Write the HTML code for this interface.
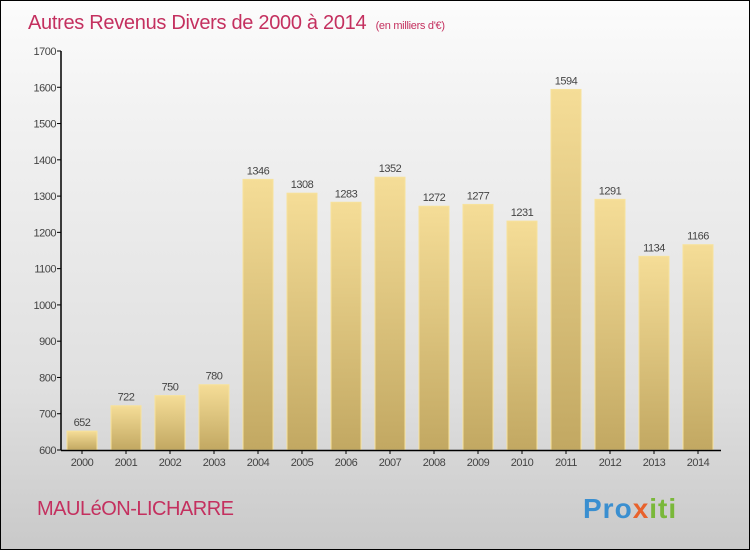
<!DOCTYPE html>
<html><head><meta charset="utf-8"><style>
html,body{margin:0;padding:0}
body{width:750px;height:550px;overflow:hidden;font-family:"Liberation Sans","DejaVu Sans",sans-serif}
#wrap{position:relative;width:748px;height:548px;border:1px solid #000;background:linear-gradient(#fcfcfc,#f2f2f2 20%,#e0e0e0 70%,#c9c9c9)}
</style></head><body>
<div id="wrap">
<svg width="748" height="548">
<defs><linearGradient id="bg" x1="0" y1="0" x2="0" y2="1"><stop offset="0" stop-color="#f5dd97"/><stop offset="1" stop-color="#c2a862"/></linearGradient></defs>
<text x="27" y="28" font-size="20" fill="#c4305f" letter-spacing="-0.3">Autres Revenus Divers de 2000 à 2014 <tspan font-size="11" dx="4">(en milliers d'€)</tspan></text>
<text x="36" y="514" font-size="20" fill="#c4305f" letter-spacing="-0.5">MAULéON-LICHARRE</text>
<text x="582" y="517" font-size="28" font-weight="bold" fill="#3a8fd0" letter-spacing="1">Pro<tspan fill="#e8622c">x</tspan><tspan fill="#7ab83a">iti</tspan></text>
<g id="plot"></g>
</svg>
</div>
<script>
const years=["2000","2001","2002","2003","2004","2005","2006","2007","2008","2009","2010","2011","2012","2013","2014"];
const values=[652,722,750,780,1346,1308,1283,1352,1272,1277,1231,1594,1291,1134,1166];
const ticks=[600,700,800,900,1000,1100,1200,1300,1400,1500,1600,1700];
const NS="http://www.w3.org/2000/svg";
const g=document.getElementById('plot');
const y=v=>449-(v-600)*(399/1100);
const x=i=>81+i*44;
function mk(t,a){const e=document.createElementNS(NS,t);for(const k in a)e.setAttribute(k,a[k]);g.appendChild(e);return e;}
ticks.forEach(t=>{
 const l=mk('line',{x1:56,x2:60,y1:y(t),y2:y(t),stroke:'#000'});
 
 
 const tx=mk('text',{x:55,y:y(t)+4,'font-size':11,fill:'#444','text-anchor':'end','letter-spacing':'-0.5'});
 tx.textContent=t;
 
 
});
values.forEach((v,i)=>{
 const r=mk('rect',{x:x(i)-15,y:y(v),width:30,height:449-y(v),fill:'url(#bg)',stroke:'#f7e29c','stroke-width':1});
 
 
 const vl=mk('text',{x:x(i),y:y(v)-5,'font-size':11,fill:'#444','text-anchor':'middle','letter-spacing':'-0.5'});
 vl.textContent=v;
 
 
 const xl=mk('text',{x:x(i),y:465,'font-size':11,fill:'#444','text-anchor':'middle','letter-spacing':'-0.5'});
 xl.textContent=years[i];
 
 
 const xt=mk('line',{x1:x(i),x2:x(i),y1:449,y2:453,stroke:'#000'});
 
 
});
const ya=mk('line',{x1:60,x2:60,y1:y(1700),y2:449.5,stroke:'#000','stroke-width':1.5});


const xa=mk('line',{x1:60,x2:720,y1:449.5,y2:449.5,stroke:'#000','stroke-width':1.5});


</script>
</body></html>
